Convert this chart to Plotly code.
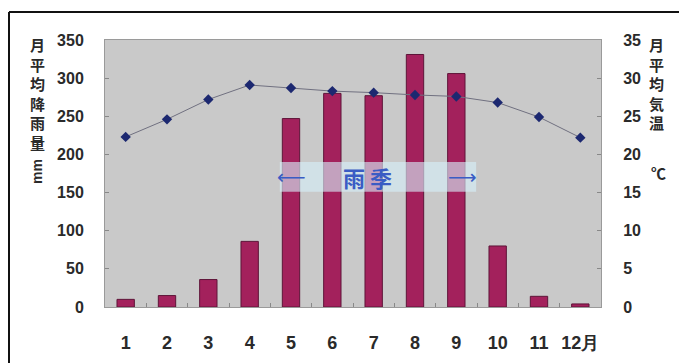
import plotly.graph_objects as go

# Monthly climate data
months = ["1", "2", "3", "4", "5", "6", "7", "8", "9", "10", "11", "12月"]
rainfall_mm = [10, 15, 36, 86, 247, 280, 277, 331, 306, 80, 14, 4]
temperature_c = [22.3, 24.6, 27.2, 29.1, 28.7, 28.3, 28.1, 27.8, 27.6, 26.8, 24.9, 22.2]
rain_ticks = [0, 50, 100, 150, 200, 250, 300, 350]
temp_ticks = [0, 5, 10, 15, 20, 25, 30, 35]

W, H = 679, 363
L, R, T, B = 105, 78, 40, 56
pw, ph = W - L - R, H - T - B


def px_x(x):
    return (x - L) / pw


def px_y(y):
    return (H - B - y) / ph


tick_font = dict(family="Liberation Sans, Arial", size=16, color="#2a2a2a", weight="bold")
cjk_font = dict(family="Noto Sans CJK JP", size=15, color="#2a2a2a")
band_blue = "#3a5cc4"

fig = go.Figure()

fig.add_trace(go.Bar(
    x=months, y=rainfall_mm, yaxis="y",
    marker=dict(color="#a3215c", line=dict(color="#5e1438", width=1)),
    width=0.42,
))

fig.add_trace(go.Scatter(
    x=months, y=temperature_c, yaxis="y2", mode="lines+markers",
    line=dict(color="#707080", width=1),
    marker=dict(symbol="diamond", size=8, color="#1c2870"),
))

fig.update_layout(
    width=W, height=H,
    margin=dict(l=L, r=R, t=T, b=B, autoexpand=False),
    paper_bgcolor="white",
    plot_bgcolor="#c9c9c9",
    showlegend=False,
    xaxis=dict(
        type="category", categoryorder="array", categoryarray=months,
        range=[-0.5, 11.5],
        tickson="boundaries", ticks="inside", ticklen=4, tickcolor="#888",
        showgrid=False, showline=True, linecolor="#9a9a9a", mirror=True,
        tickangle=0, automargin=False,
        tickfont=dict(family="Liberation Sans, Arial", size=18, color="#2a2a2a",
                      weight="bold"),
        ticklabelstandoff=19,
    ),
    yaxis=dict(
        range=[0, 350], tickvals=rain_ticks, showgrid=False, zeroline=False,
        ticks="inside", ticklen=4, tickcolor="#888", automargin=False,
        showline=True, linecolor="#9a9a9a",
        tickfont=tick_font, ticklabelstandoff=17,
    ),
    yaxis2=dict(
        range=[0, 35], tickvals=temp_ticks, overlaying="y", side="right",
        showgrid=False, zeroline=False, ticks="inside", ticklen=4, tickcolor="#888",
        showline=True, linecolor="#9a9a9a", automargin=False,
        tickfont=tick_font, ticklabelstandoff=18,
    ),
)

# Rainy-season band drawn over the bars
fig.add_shape(type="rect", xref="x", yref="y", x0=3.73, x1=8.48, y0=151, y1=190,
              fillcolor="rgba(215,240,250,0.62)", line_width=0, layer="above")
fig.add_annotation(x=4.0, y=170, xref="x", yref="y", text="⟵", showarrow=False,
                   font=dict(family="DejaVu Sans", size=20, color=band_blue))
fig.add_annotation(x=8.15, y=170, xref="x", yref="y", text="⟶", showarrow=False,
                   font=dict(family="DejaVu Sans", size=20, color=band_blue))
fig.add_annotation(x=5.86, y=170, xref="x", yref="y", text="<b>雨 季</b>", showarrow=False,
                   font=dict(family="Noto Sans CJK JP", size=22, color=band_blue))

# Axis titles, stacked vertically
fig.add_annotation(x=px_x(37), y=px_y(32), xref="paper", yref="paper",
                   xanchor="center", yanchor="top",
                   text="<b>月<br>平<br>均<br>降<br>雨<br>量</b>", showarrow=False,
                   font=cjk_font)
fig.add_annotation(x=px_x(37), y=px_y(172), xref="paper", yref="paper",
                   xanchor="center", yanchor="middle",
                   text="<b>mm</b>", textangle=-90, showarrow=False,
                   font=dict(family="Liberation Sans", size=14, color="#2a2a2a"))
fig.add_annotation(x=px_x(656), y=px_y(32), xref="paper", yref="paper",
                   xanchor="center", yanchor="top",
                   text="<b>月<br>平<br>均<br>気<br>温</b>", showarrow=False,
                   font=cjk_font)
fig.add_annotation(x=px_x(658), y=px_y(172), xref="paper", yref="paper",
                   xanchor="center", yanchor="middle",
                   text="<b>℃</b>", showarrow=False,
                   font=dict(family="Noto Sans CJK JP", size=15, color="#2a2a2a"))

# Frame
fig.add_shape(type="line", xref="paper", yref="paper",
              x0=px_x(9), x1=px_x(9), y0=px_y(12), y1=px_y(370),
              line=dict(color="#111", width=2))
fig.add_shape(type="line", xref="paper", yref="paper",
              x0=px_x(9), x1=px_x(690), y0=px_y(12), y1=px_y(12),
              line=dict(color="#111", width=2))

fig.write_html("out.html")
